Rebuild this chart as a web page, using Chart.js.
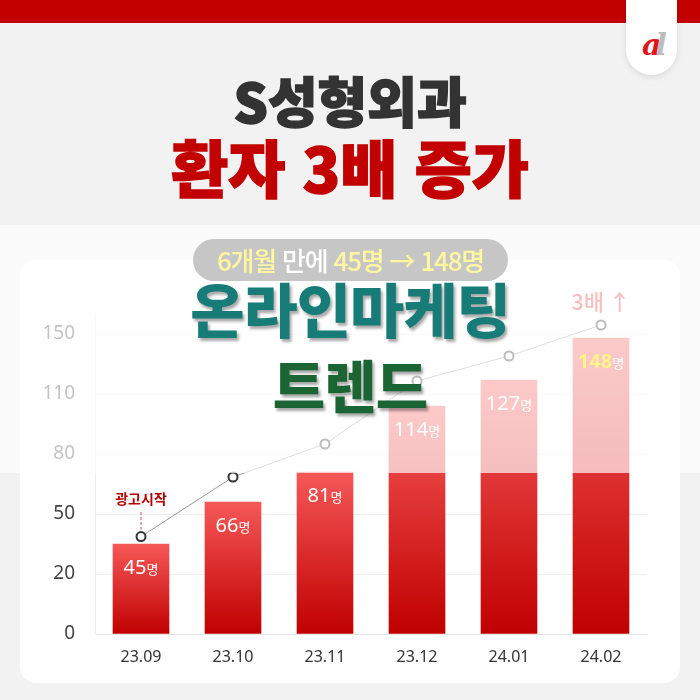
<!DOCTYPE html>
<html lang="ko">
<head>
<meta charset="utf-8">
<script src="https://cdn.jsdelivr.net/npm/chart.js@4.4.1/dist/chart.umd.min.js"></script>
<style>
  html,body{margin:0;padding:0;}
  body{width:700px;height:700px;position:relative;overflow:hidden;background:#f2f2f2;font-family:"Noto Sans CJK KR","Noto Sans",sans-serif;}
  .abs{position:absolute;}
  #topbar{left:0;top:0;width:700px;height:23px;background:#c20000;}
  #tab{left:626px;top:-30px;width:51px;height:105px;border-radius:26px;background:#fff;box-shadow:0 2px 6px rgba(0,0,0,0.10);}
  #logo{left:626px;top:28px;width:51px;text-align:center;font:italic 900 30px "DejaVu Serif",serif;line-height:34px;letter-spacing:-6px;}
  .title{left:0;width:700px;text-align:center;font-weight:900;letter-spacing:0;}
  #t1{top:70px;height:60px;line-height:60px;font-size:54px;color:#333;-webkit-text-stroke:1.5px #333;}
  #t2{top:134px;height:64px;line-height:64px;font-size:62px;color:#c20000;-webkit-text-stroke:1.5px #c20000;}
  #card{left:20px;top:260px;width:660px;height:423px;border-radius:16px;background:#fff;}
  #chartCanvas{left:0;top:0;}
  #pill{left:193px;top:239px;width:315px;height:42px;border-radius:21px;background:#c6c6c6;text-align:center;line-height:42px;font-size:26px;letter-spacing:-1.2px;color:#fff;font-weight:500;}
  #pill .y{color:#fff6a0;}
  .over{left:0;width:700px;text-align:center;font-weight:900;text-shadow:2px 3px 3px rgba(0,0,0,0.35);letter-spacing:-1px;}
  #o1{top:276px;height:64px;line-height:64px;font-size:59px;color:#177c78;}
  #o2{top:352px;height:62px;line-height:62px;font-size:57px;color:#1b6535;}
</style>
</head>
<body>
<div id="topbar" class="abs"></div>
<div id="tab" class="abs"></div>
<div id="logo" class="abs"><span style="color:#e0161e">a</span><span style="color:#bdbdbd">l</span></div>
<div id="t1" class="abs title">S성형외과</div>
<div id="t2" class="abs title">환자 3배 증가</div>
<div id="card" class="abs"></div>
<canvas id="chartCanvas" class="abs" width="700" height="700"></canvas>
<div id="pill" class="abs"><span class="y">6개월</span> 만에 <span class="y">45명 → 148명</span></div>
<div id="o1" class="abs over">온라인마케팅</div>
<div id="o2" class="abs over">트렌드</div>
<script>
// ---- data ----
const categories = ['23.09', '23.10', '23.11', '23.12', '24.01', '24.02'];
const patients = [45, 66, 81, 114, 127, 148];
const trendPoints = [48.7, 78.5, 95, 126.5, 139, 154.5];
const yTickValues = [0, 30, 60, 90, 120, 150];
const yTickLabels = ['0', '20', '50', '80', '110', '150'];
const unitLabel = '명';
const startNote = '광고시작';
const growthNote = '3배';

const overlayPlugin = {
  id: 'overlay',
  afterDraw(chart) {
    const ctx = chart.ctx;
    const xs = chart.scales.x, ys = chart.scales.y;
    ctx.save();
    // growth note (drawn before the wash)
    const lastX = xs.getPixelForValue(categories.length - 1);
    ctx.fillStyle = '#e23a3a';
    ctx.textAlign = 'center';
    ctx.textBaseline = 'middle';
    ctx.font = '500 22px "Noto Sans CJK KR"';
    ctx.fillText(growthNote + ' ↑', lastX, 302);
    // wash over the upper part of the picture
    ctx.fillStyle = 'rgba(255,255,255,0.68)';
    ctx.fillRect(0, 225, 700, 248);
    // start annotation
    const fx = xs.getPixelForValue(0);
    const fy = ys.getPixelForValue(trendPoints[0]);
    ctx.fillStyle = '#b30000';
    ctx.font = 'bold 14px "Noto Sans CJK KR"';
    ctx.fillText(startNote, fx, 499);
    ctx.strokeStyle = '#c95050';
    ctx.lineWidth = 1;
    ctx.setLineDash([3, 2]);
    ctx.beginPath();
    ctx.moveTo(fx, 512);
    ctx.lineTo(fx, fy - 7);
    ctx.stroke();
    ctx.setLineDash([]);
    // bar labels
    patients.forEach((v, i) => {
      const cx = xs.getPixelForValue(i);
      const cy = ys.getPixelForValue(v) + 24;
      const num = String(v);
      const last = i === patients.length - 1;
      ctx.font = (last ? 'bold ' : '') + '20px "Noto Sans"';
      const wN = ctx.measureText(num).width;
      ctx.font = '13px "Noto Sans CJK KR"';
      const wU = ctx.measureText(unitLabel).width;
      const x0 = cx - (wN + wU) / 2;
      ctx.textAlign = 'left';
      ctx.fillStyle = last ? '#fff38a' : '#ffffff';
      ctx.font = (last ? 'bold ' : '') + '20px "Noto Sans"';
      ctx.fillText(num, x0, cy);
      ctx.fillStyle = '#ffffff';
      ctx.font = '13px "Noto Sans CJK KR"';
      ctx.fillText(unitLabel, x0 + wN, cy + 1);
    });
    ctx.restore();
  }
};

new Chart(document.getElementById('chartCanvas'), {
  data: {
    labels: categories,
    datasets: [
      {
        type: 'line',
        data: trendPoints,
        order: 0,
        borderColor: '#9a9a9a',
        borderWidth: 1,
        pointRadius: 4.5,
        pointBorderWidth: 2,
        pointBorderColor: '#333333',
        pointBackgroundColor: '#ffffff',
        tension: 0
      },
      {
        type: 'bar',
        data: patients,
        order: 1,
        barThickness: 56,
        backgroundColor: (c) => {
          const chart = c.chart;
          if (!chart.chartArea || c.type !== 'data') return '#e03030';
          const y = chart.scales.y;
          const top = y.getPixelForValue(c.raw);
          const bottom = y.getPixelForValue(0);
          const g = chart.ctx.createLinearGradient(0, top, 0, bottom);
          g.addColorStop(0, '#f65858');
          g.addColorStop(1, '#c00000');
          return g;
        }
      }
    ]
  },
  options: {
    responsive: false,
    animation: false,
    devicePixelRatio: 1,
    layout: { padding: { left: 20, right: 53, top: 314, bottom: 0 } },
    plugins: { legend: { display: false }, tooltip: { enabled: false } },
    scales: {
      x: {
        grid: { display: false, drawTicks: false },
        border: { display: true, color: '#e6e6e6' },
        ticks: { color: '#333', font: { family: 'Noto Sans', size: 16 }, padding: 14 },
        afterFit: (s) => { s.height = 66; }
      },
      y: {
        min: 0,
        max: 160,
        afterBuildTicks: (s) => { s.ticks = yTickValues.map(v => ({ value: v })); },
        grid: { color: '#eeeeee', drawTicks: false },
        border: { display: true, color: '#eeeeee' },
        ticks: {
          color: '#444',
          padding: 20,
          font: { family: 'Noto Sans', size: 19 },
          callback: (v, i) => yTickLabels[i]
        },
        afterFit: (s) => { s.width = 75; }
      }
    }
  },
  plugins: [overlayPlugin]
});
</script>
</body>
</html>
